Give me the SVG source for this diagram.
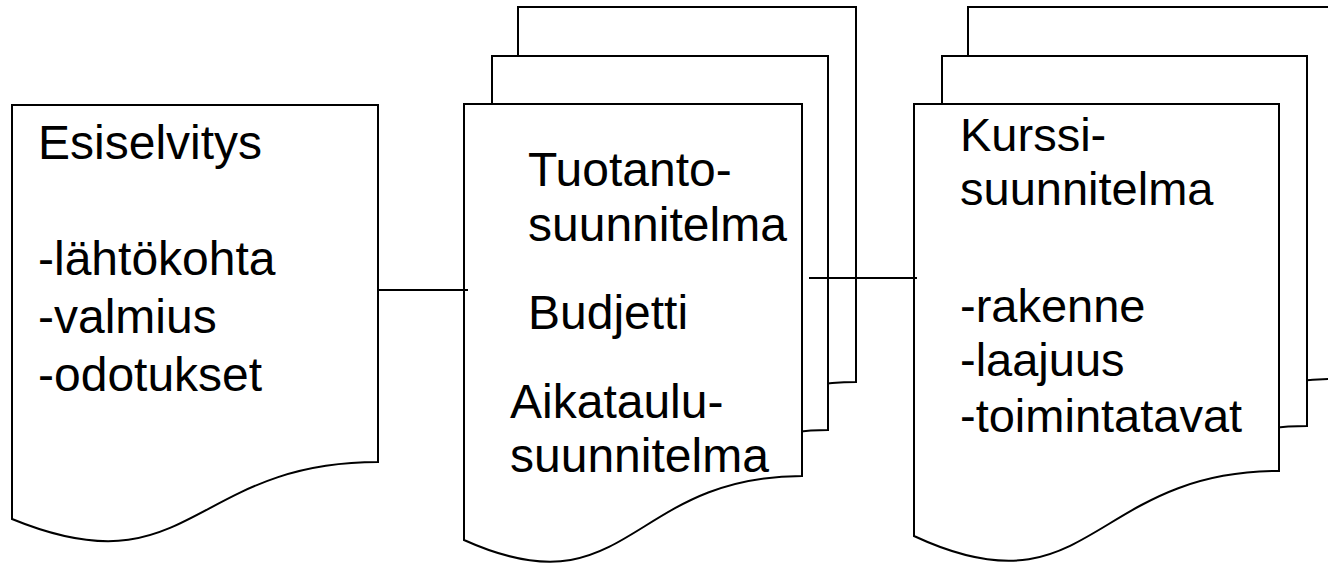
<svg xmlns="http://www.w3.org/2000/svg" width="1328" height="566" viewBox="0 0 1328 566">
  <style>
    .doc { fill: #ffffff; stroke: #000000; stroke-width: 2; stroke-linejoin: miter; }
    .conn { stroke: #000000; stroke-width: 2; fill: none; }
    .lbl { font-family: "Liberation Sans", Arial, sans-serif; font-size: 48px; fill: #000000; }
    .lbl3 { font-size: 47px; }
  </style>
  <rect width="1328" height="566" fill="#ffffff"/>

  <g id="esiselvitys">
    <path class="doc" d="M12,105 H378 V462 C190,462 190,592 12,519 Z"/>
    <text class="lbl" x="38" y="159">Esiselvitys</text>
    <text class="lbl" x="38" y="275">-lähtökohta</text>
    <text class="lbl" x="38" y="333">-valmius</text>
    <text class="lbl" x="38" y="391">-odotukset</text>
  </g>

  <g id="tuotantosuunnitelma">
    <path class="doc" d="M518,7 H856 V382 C687,382 687,524 518,446 Z"/>
    <path class="doc" d="M492,56 H828 V430 C660,430 660,572 492,494 Z"/>
    <path class="doc" d="M464,104 H802 V476 C628,476 628,614 464,540 Z"/>
    <text class="lbl" x="528" y="186">Tuotanto-</text>
    <text class="lbl" x="528" y="241">suunnitelma</text>
    <text class="lbl" x="528" y="329">Budjetti</text>
    <text class="lbl" x="510" y="418">Aikataulu-</text>
    <text class="lbl" x="510" y="472">suunnitelma</text>
  </g>

  <g id="kurssisuunnitelma">
    <path class="doc" d="M968,7 H1335 V379 C1151,379 1151,520 968,443 Z"/>
    <path class="doc" d="M942,56 H1307 V426 C1124,426 1124,568 942,490 Z"/>
    <path class="doc" d="M914,104 H1279 V471 C1090,471 1090,618 914,536 Z"/>
    <text class="lbl lbl3" x="960" y="151">Kurssi-</text>
    <text class="lbl lbl3" x="960" y="205">suunnitelma</text>
    <text class="lbl lbl3" x="960" y="322">-rakenne</text>
    <text class="lbl lbl3" x="960" y="376">-laajuus</text>
    <text class="lbl lbl3" x="960" y="432">-toimintatavat</text>
  </g>

  <g id="connectors">
    <line class="conn" x1="378" y1="290" x2="468" y2="290"/>
    <line class="conn" x1="809" y1="278" x2="917" y2="278"/>
  </g>
</svg>
